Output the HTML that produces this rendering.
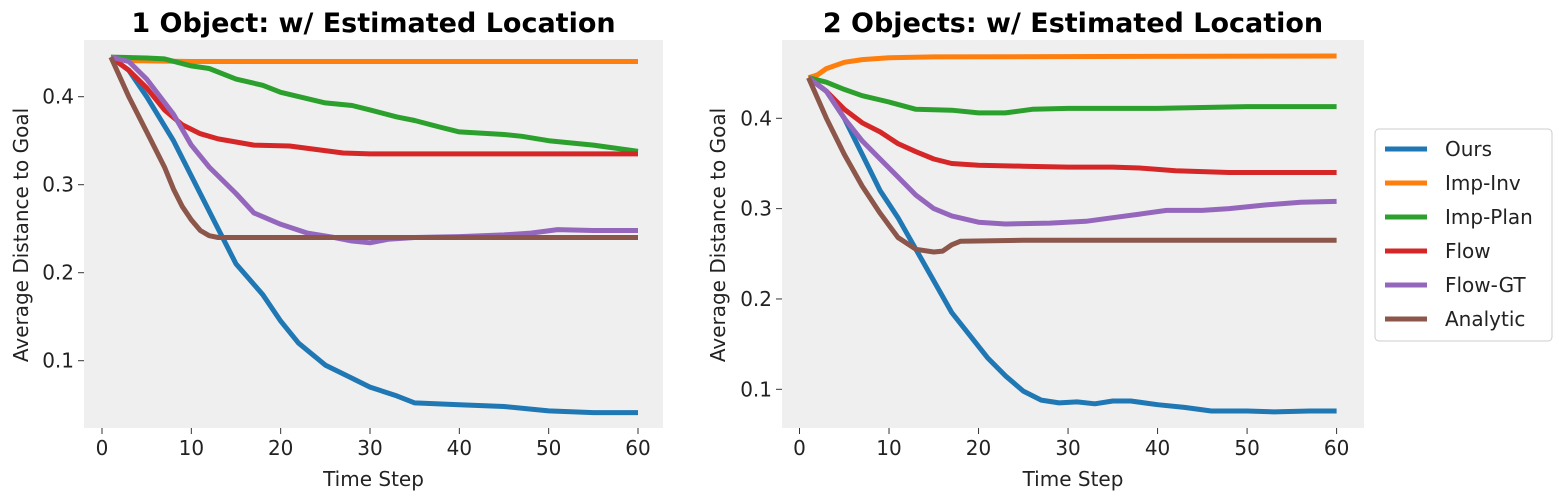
<!DOCTYPE html>
<html><head><meta charset="utf-8"><style>
body{margin:0;background:#fff;}
svg{display:block;font-family:"DejaVu Sans","Liberation Sans",sans-serif;}
</style></head><body>
<svg id="c" width="1562" height="501"></svg>
<script>
const seriesNames=["Ours","Imp-Inv","Imp-Plan","Flow","Flow-GT","Analytic"];
const colors=["#1f77b4","#ff7f0e","#2ca02c","#d62728","#9467bd","#8c564b"];
const xTicks=[0,10,20,30,40,50,60];
const yTicks=[0.1,0.2,0.3,0.4];
const L_ours=[[1,.445],[3,.43],[5,.40],[8,.35],[10,.31],[13,.25],[15,.21],[18,.175],[20,.145],[22,.12],[25,.095],[28,.08],[30,.07],[33,.06],[35,.052],[40,.05],[45,.048],[50,.043],[55,.041],[60,.041]];
const L_inv=[[1,.445],[3,.441],[10,.44],[30,.44],[60,.44]];
const L_plan=[[1,.445],[5,.444],[7,.443],[10,.435],[12,.432],[15,.42],[18,.413],[20,.405],[25,.393],[28,.39],[30,.385],[33,.377],[35,.373],[38,.365],[40,.36],[45,.357],[47,.355],[50,.35],[55,.345],[60,.338]];
const L_flow=[[1,.445],[3,.43],[5,.41],[7,.385],[9,.368],[11,.358],[13,.352],[17,.345],[21,.344],[24,.34],[27,.336],[30,.335],[60,.335]];
const L_gt=[[1,.445],[3,.44],[5,.42],[8,.38],[10,.345],[12,.32],[15,.29],[17,.268],[20,.255],[23,.245],[26,.24],[28,.236],[30,.234],[32,.238],[35,.24],[40,.241],[45,.243],[48,.245],[51,.249],[55,.248],[60,.248]];
const L_an=[[1,.445],[3,.4],[5,.36],[7,.32],[8,.295],[9,.275],[10,.26],[11,.248],[12,.242],[13,.24],[60,.24]];
const R_ours=[[1,.445],[3,.43],[5,.40],[7,.36],[9,.32],[11,.29],[13,.255],[15,.22],[17,.185],[19,.16],[21,.135],[23,.115],[25,.098],[27,.088],[29,.085],[31,.086],[33,.084],[35,.087],[37,.087],[40,.083],[43,.08],[46,.076],[50,.076],[53,.075],[57,.076],[60,.076]];
const R_inv=[[1,.445],[2,.448],[3,.455],[5,.462],[7,.465],[10,.467],[15,.468],[60,.469]];
const R_plan=[[1,.445],[3,.44],[5,.432],[7,.425],[10,.418],[13,.41],[17,.409],[20,.406],[23,.406],[26,.41],[30,.411],[40,.411],[45,.412],[50,.413],[60,.413]];
const R_flow=[[1,.445],[3,.43],[5,.41],[7,.395],[9,.385],[11,.372],[13,.363],[15,.355],[17,.35],[20,.348],[25,.347],[30,.346],[35,.346],[38,.345],[42,.342],[48,.34],[60,.34]];
const R_gt=[[1,.445],[3,.43],[5,.4],[7,.375],[9,.355],[11,.335],[13,.315],[15,.3],[17,.292],[20,.285],[23,.283],[28,.284],[32,.286],[35,.29],[38,.294],[41,.298],[45,.298],[48,.3],[52,.304],[56,.307],[60,.308]];
const R_an=[[1,.445],[3,.4],[5,.36],[7,.325],[9,.295],[11,.268],[13,.255],[15,.252],[16,.253],[17,.26],[18,.264],[25,.265],[60,.265]];

const NS="http://www.w3.org/2000/svg";
const svg=document.getElementById('c');
function mk(t,a,p){const e=document.createElementNS(NS,t);for(const k in a)e.setAttribute(k,a[k]);(p||svg).appendChild(e);return e;}

function panel(cfg,data,key){
  const g=mk('g',{});
  
  
  const xs=v=>cfg.x0+(v-0)*(cfg.x60-cfg.x0)/60;
  const ys=v=>cfg.y04+(0.4-v)*(cfg.y01-cfg.y04)/0.3;
  const bg=mk('rect',{x:cfg.bx0,y:40,width:cfg.bx1-cfg.bx0,height:388,fill:'#efefef'},g);
  
  
  xTicks.forEach(t=>{
    mk('line',{x1:xs(t),x2:xs(t),y1:428,y2:434,stroke:'#333','stroke-width':1},g);
    const tx=mk('text',{x:xs(t),y:455,'font-size':20,'text-anchor':'middle',fill:'#222'},g);
    tx.textContent=t;
    
    
  });
  yTicks.forEach(t=>{
    mk('line',{x1:cfg.bx0-6,x2:cfg.bx0,y1:ys(t),y2:ys(t),stroke:'#333','stroke-width':1},g);
    const tx=mk('text',{x:cfg.bx0-10,y:ys(t)+7,'font-size':20,'text-anchor':'end',fill:'#222'},g);
    tx.textContent=t.toFixed(1);
    
    
  });
  data.forEach((d,i)=>{
    const p=mk('polyline',{points:d.map(q=>xs(q[0]).toFixed(1)+','+ys(q[1]).toFixed(1)).join(' '),fill:'none',stroke:colors[i],'stroke-width':5,'stroke-linejoin':'round','stroke-linecap':'butt'},g);
    
    
  });
  const tt=mk('text',{x:(cfg.bx0+cfg.bx1)/2,y:32,'font-size':27,'font-weight':'bold','text-anchor':'middle',fill:'#000'},g);
  tt.textContent=cfg.title;
  
  
  const xl=mk('text',{x:(cfg.bx0+cfg.bx1)/2,y:486,'font-size':20,'text-anchor':'middle',fill:'#222'},g);
  xl.textContent='Time Step';
  
  
  const yl=mk('text',{x:0,y:0,'font-size':20,'text-anchor':'middle',fill:'#222',transform:`translate(${cfg.ylx},235) rotate(-90)`},g);
  yl.textContent='Average Distance to Goal';
  
  
}
panel({x0:102,x60:638,bx0:84,bx1:663,y04:96.7,y01:360.7,title:'1 Object: w/ Estimated Location',ylx:28},[L_ours,L_inv,L_plan,L_flow,L_gt,L_an],'left');
panel({x0:799.5,x60:1336.6,bx0:782,bx1:1364,y04:118.3,y01:389.3,title:'2 Objects: w/ Estimated Location',ylx:725},[R_ours,R_inv,R_plan,R_flow,R_gt,R_an],'right');

const lg=mk('g',{});


mk('rect',{x:1375,y:129,width:177,height:212,rx:4,fill:'#fff',stroke:'#ccc','stroke-width':1},lg);
seriesNames.forEach((n,i)=>{
  const y=149+i*34;
  const e=mk('g',{},lg);
  
  
  mk('line',{x1:1385,x2:1427,y1:y,y2:y,stroke:colors[i],'stroke-width':5},e);
  const t=mk('text',{x:1445,y:y+7,'font-size':20,fill:'#222'},e);
  t.textContent=n;
});
</script>
</body></html>
